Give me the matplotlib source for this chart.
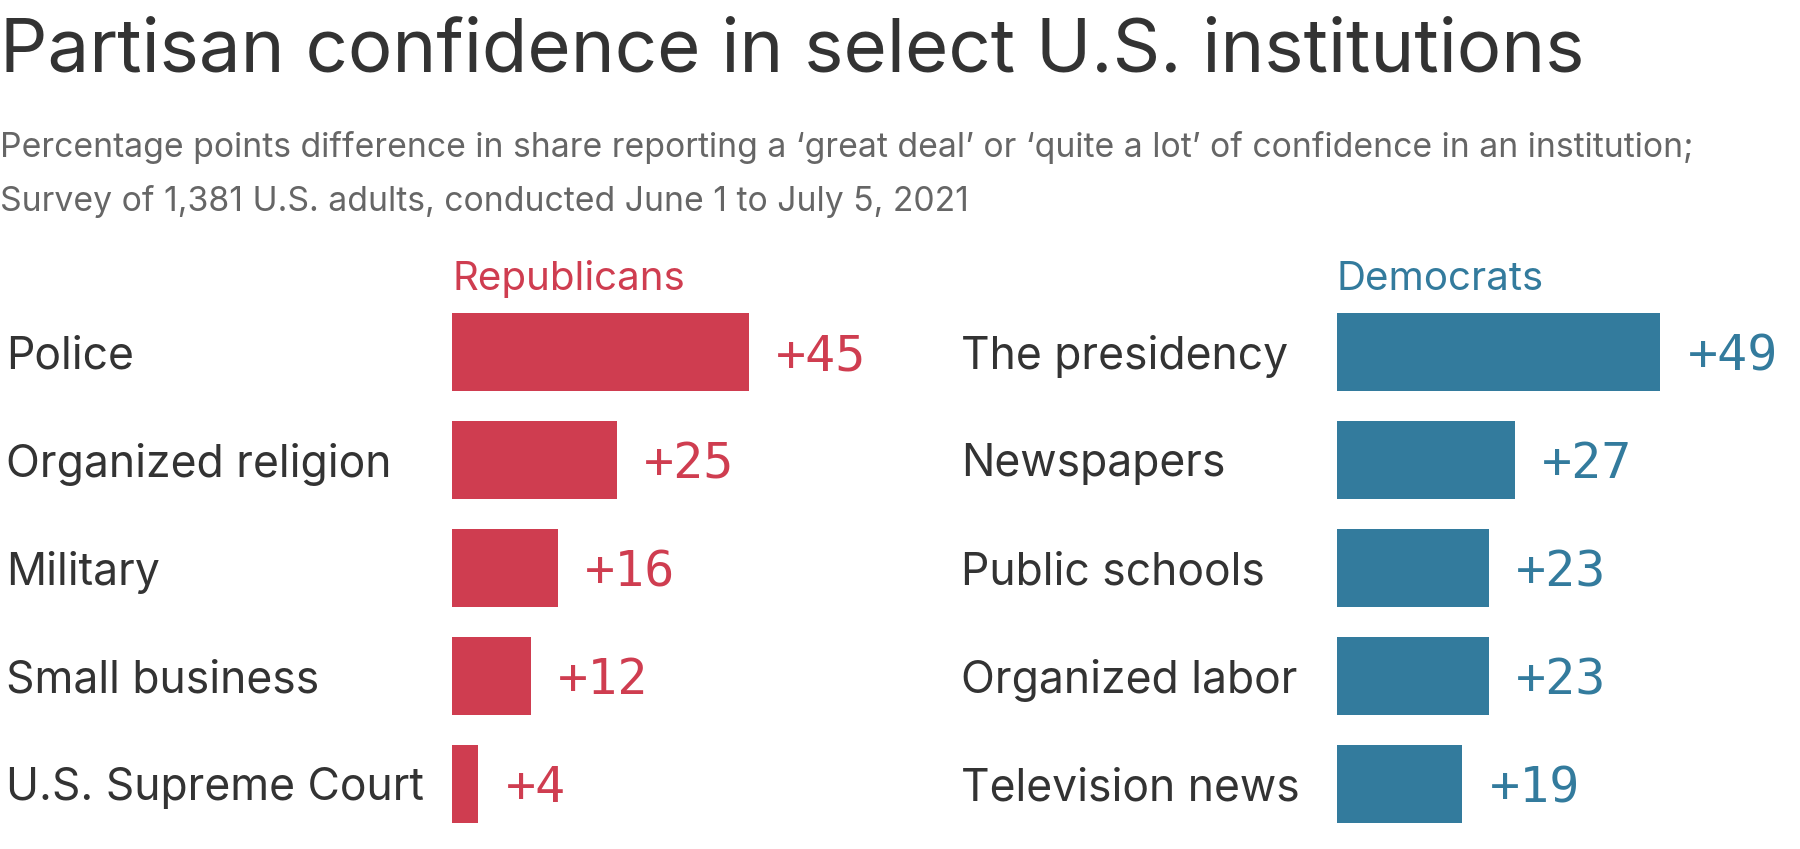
import matplotlib

matplotlib.use("Agg")

import matplotlib.pyplot as plt  # noqa: E402
from matplotlib.transforms import blended_transform_factory  # noqa: E402

# data
rep_labels = ["Police", "Organized religion", "Military", "Small business",
              "U.S. Supreme Court"]
rep_values = [45, 25, 16, 12, 4]
dem_labels = ["The presidency", "Newspapers", "Public schools",
              "Organized labor", "Television news"]
dem_values = [49, 27, 23, 23, 19]

TITLE = "Partisan confidence in select U.S. institutions"
SUBTITLE_1 = ("Percentage points difference in share reporting a \u2018great deal\u2019 "
              "or \u2018quite a lot\u2019 of confidence in an institution;")
SUBTITLE_2 = "Survey of 1,381 U.S. adults, conducted June 1 to July 5, 2021"

RED = "#cf3d50"
BLUE = "#337b9d"
INK = "#333333"
GREY = "#666666"

W, H = 1800, 849
FONT = ["Inter", "DejaVu Sans"]
MONO = ["DejaVu Sans Mono"]

plt.rcParams["font.family"] = FONT

fig = plt.figure(figsize=(W / 100, H / 100), dpi=100)


def fx(px):
    return px / W


def fy(px):
    return 1 - px / H


fig.text(fx(0), fy(71), TITLE, fontsize=53.5, color=INK, va="baseline", ha="left")
fig.text(fx(0), fy(157), SUBTITLE_1, fontsize=24.3, color=GREY, va="baseline",
         ha="left")
fig.text(fx(0), fy(211), SUBTITLE_2, fontsize=24.3, color=GREY, va="baseline",
         ha="left")


def panel(left_px, label_px, header, labels, values, color):
    # 6.6 px per percentage point, rows 108 px apart
    ax = fig.add_axes([fx(left_px), fy(838), 396 / W, 540 / H])
    ax.set_xlim(0, 60)
    ax.set_ylim(len(values) - 0.5, -0.5)
    ys = list(range(len(values)))
    ax.barh(ys, values, height=0.713, color=color)
    ax.axis("off")
    tr = blended_transform_factory(fig.transFigure, ax.transData)
    for y, lab, v in zip(ys, labels, values):
        ax.text(fx(label_px), y + 0.04, lab, transform=tr, fontsize=32,
                color=INK, va="center", ha="left")
        ax.text(v + 4.1, y + 0.04, f"+{v}", fontsize=36, color=color,
                family=MONO, va="center", ha="left")
    fig.text(fx(left_px), fy(290), header, fontsize=29, color=color,
             va="baseline", ha="left")
    return ax


panel(452, 6, "Republicans", rep_labels, rep_values, RED)
panel(1337, 961, "Democrats", dem_labels, dem_values, BLUE)

fig.savefig("out.png", dpi=100, facecolor="white")
